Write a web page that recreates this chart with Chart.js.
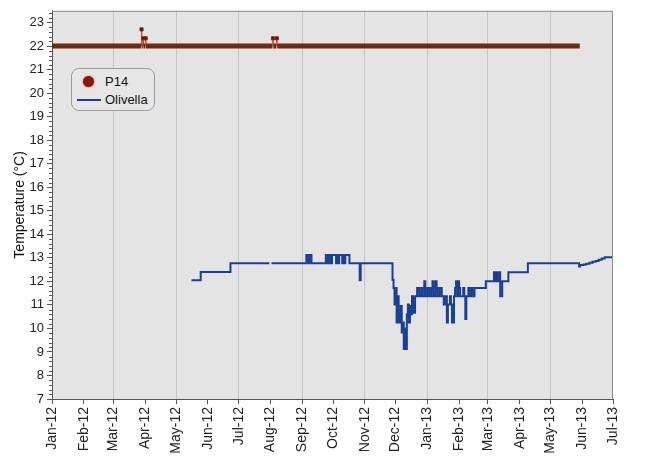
<!DOCTYPE html>
<html><head><meta charset="utf-8">
<script src="https://cdn.jsdelivr.net/npm/chart.js@4.4.1/dist/chart.umd.min.js"></script>
<style>
html,body{margin:0;padding:0;background:#fff;}
#wrap{position:relative;width:650px;height:464px;}
#legend{position:absolute;left:71px;top:68px;width:84px;height:43px;border:1px solid #9a9a9a;border-radius:8px;background:#e6e6e6;font:13px "Liberation Sans",Arial,sans-serif;color:#111;box-sizing:border-box;}
.item{position:absolute;left:0;width:84px;height:16px;line-height:16px;}
.item span.txt{position:absolute;left:33px;top:0;}
.mk{position:absolute;}
</style></head>
<body>
<div id="wrap"><canvas id="c" width="650" height="464"></canvas><div id="legend"></div></div>
<script>
// ---- data ----
const monthLabels = ['Jan-12','Feb-12','Mar-12','Apr-12','May-12','Jun-12','Jul-12','Aug-12','Sep-12','Oct-12','Nov-12','Dec-12','Jan-13','Feb-13','Mar-13','Apr-13','May-13','Jun-13','Jul-13'];
const yTicks = [7,8,9,10,11,12,13,14,15,16,17,18,19,20,21,22,23];
// days since 1 Jan 2012
const p14Day = [0, 87, 87.3, 87.6, 88.6, 88.9, 89.2, 91.0, 91.3, 91.6, 215, 215.4, 215.8, 218.8, 219.2, 219.6, 514.6];
const p14Val = [22, 22, 22.71, 22, 22, 22.33, 22, 22, 22.33, 22, 22, 22.33, 22, 22, 22.33, 22, 22];
const oliDay = [136,145,174,212,213,214,248,250,251,253,267,269,270,272,273,277,278,279,280,283,284,285,286,290,300,301,
 332,333,334,335,336,337,338,339,340,341,342,343,344,345,346,347,348,349,350,351,352,353,354,356,358,360,361,363,364,366,368,370,371,372,
 374,375,376,378,380,382,383,385,386,388,389,390,392,393,394,395,396,397,398,401,402,403,404,406,407,409,410,412,423,431,432,433,434,436,437,439,445,464,
 514,515,518,521,524,527,530,533,536,539,546];
const oliVal = [12.05,12.4,12.77,12.77,null,12.77,13.12,12.77,13.12,12.77,13.12,12.77,13.12,12.77,13.12,12.77,13.12,12.77,13.12,12.77,13.12,12.77,13.12,12.77,12.05,12.77,
 12.07,11.72,11.02,11.72,10.25,11.37,10.6,10.25,10.95,9.83,10.25,9.13,10.0,9.13,10.6,11.02,10.25,10.95,10.6,11.37,10.95,10.67,11.37,11.72,11.37,11.72,11.37,12.0,11.37,11.72,11.37,11.72,12.0,11.37,
 12.0,11.72,11.37,11.72,11.37,11.02,11.37,10.25,11.02,11.37,11.02,10.25,11.37,11.72,12.0,11.37,12.0,11.72,11.37,11.72,11.37,10.4,11.37,11.72,11.37,11.72,11.37,11.72,12.0,12.39,12.0,12.39,12.0,12.39,11.37,12.0,12.39,12.77,
 12.63,12.7,12.72,12.75,12.79,12.83,12.87,12.92,12.97,13.02,13.02];

const MON = ['Jan','Feb','Mar','Apr','May','Jun','Jul','Aug','Sep','Oct','Nov','Dec'];
function labelToDay(l){ const p=l.split('-'); return (Date.UTC(2000+ +p[1], MON.indexOf(p[0]),1)-Date.UTC(2012,0,1))/86400000; }
const monthDays = monthLabels.map(labelToDay);

const FONT = '"Liberation Sans", Arial, sans-serif';
const P14_COLOR = '#6e2b0e';
const OLI_COLOR = '#1a3f94';
const BASE = 22;

const bgPlugin = {
  id:'bg',
  beforeDraw(chart){
    const {ctx, chartArea:a} = chart;
    ctx.save();
    ctx.fillStyle='#fff'; ctx.fillRect(0,0,chart.width,chart.height);
    ctx.fillStyle='#e4e4e4'; ctx.fillRect(a.left,a.top,a.right-a.left,a.bottom-a.top);
    ctx.restore();
  },
  afterDraw(chart){
    const {ctx, chartArea:a, scales} = chart;
    ctx.save();
    ctx.strokeStyle='#8c8c8c'; ctx.lineWidth=1;
    ctx.beginPath();
    ctx.moveTo(a.left, a.top+0.5); ctx.lineTo(a.right-0.5, a.top+0.5); ctx.lineTo(a.right-0.5, a.bottom);
    ctx.stroke();
    // minor ticks on y axis
    const y = scales.y;
    ctx.strokeStyle='#555';
    ctx.beginPath();
    for(let i=0;i<yTicks.length;i++){
      for(let k=1;k<5;k++){
        const v = yTicks[i]+k*0.2;
        if(v>y.max) break;
        const py = Math.round(y.getPixelForValue(v))+0.5;
        ctx.moveTo(a.left-3, py); ctx.lineTo(a.left, py);
      }
    }
    ctx.stroke();
    ctx.restore();
  }
};

const onBase = c => c.p0.parsed.y===BASE && c.p1.parsed.y===BASE;

const chart = new Chart(document.getElementById('c'), {
  type:'line',
  data:{
    datasets:[
      {
        label:'P14',
        data:p14Day.map((d,i)=>({x:d,y:p14Val[i]})),
        borderColor:P14_COLOR,
        borderWidth:5,
        borderCapStyle:'butt',
        segment:{
          borderWidth: c => onBase(c) ? 5 : 1,
          borderColor: c => onBase(c) ? P14_COLOR : '#c8452a'
        },
        pointStyle:'rect',
        pointRadius: c => (c.raw && c.raw.y!==BASE) ? 2.2 : 0,
        pointBackgroundColor:'#4a1606',
        pointBorderColor:'#8a2a10',
        pointBorderWidth:1,
        fill:false,
        tension:0,
        legendMarker:'circle', legendColor:'#8e1606'
      },
      {
        label:'Olivella',
        data:oliDay.map((d,i)=>({x:d,y:oliVal[i]})),
        borderColor:OLI_COLOR,
        borderWidth:2,
        stepped:true,
        pointRadius:0,
        spanGaps:false,
        fill:false,
        legendMarker:'line', legendColor:OLI_COLOR
      }
    ]
  },
  options:{
    responsive:false,
    animation:false,
    layout:{padding:{top:6,right:37,left:0,bottom:0}},
    plugins:{legend:{display:false},tooltip:{enabled:false}},
    scales:{
      x:{
        type:'linear',
        min:monthDays[0], max:monthDays[monthDays.length-1],
        afterBuildTicks(s){ s.ticks = monthDays.map(v=>({value:v})); },
        afterFit(s){ s.height = 65; },
        ticks:{
          autoSkip:false, maxRotation:90, minRotation:90, padding:3,
          color:'#222', font:{family:FONT,size:14},
          callback:(v,i)=>monthLabels[i]
        },
        grid:{
          drawOnChartArea:true, drawTicks:true, tickLength:5, tickColor:'#555',
          color: c => (c.index>0 && c.index<monthDays.length-1 && c.index%2===0) ? '#c6c6c6' : 'rgba(0,0,0,0)',
          lineWidth:1
        },
        border:{display:true,color:'#555',width:1}
      },
      y:{
        min:7, max:23.5,
        afterBuildTicks(s){ s.ticks = yTicks.map(v=>({value:v})); },
        afterFit(s){ s.width = 52; },
        ticks:{color:'#222', font:{family:FONT,size:13}, padding:3, callback:v=>String(v)},
        grid:{drawOnChartArea:false, drawTicks:true, tickLength:5, tickColor:'#555'},
        border:{display:true,color:'#555',width:1},
        title:{display:true,text:'Temperature (°C)',color:'#111',font:{family:FONT,size:14},padding:{top:12,bottom:0}}
      }
    }
  },
  plugins:[bgPlugin]
});

// HTML legend built from dataset labels
const lg = document.getElementById('legend');
chart.data.datasets.forEach((ds,i)=>{
  const it = document.createElement('div');
  it.className='item';
  it.style.top = (5+i*18)+'px';
  const mk = document.createElement('div');
  mk.className='mk';
  if(ds.legendMarker==='circle'){
    Object.assign(mk.style,{left:'11px',top:'2px',width:'11px',height:'11px',borderRadius:'50%',background:ds.legendColor,boxShadow:'0 0 1px 1px rgba(200,80,60,0.35)'});
  } else {
    Object.assign(mk.style,{left:'5px',top:'7px',width:'24px',height:'2px',background:ds.legendColor});
  }
  const t = document.createElement('span');
  t.className='txt'; t.textContent = ds.label;
  it.appendChild(mk); it.appendChild(t);
  lg.appendChild(it);
});
</script>
</body></html>
